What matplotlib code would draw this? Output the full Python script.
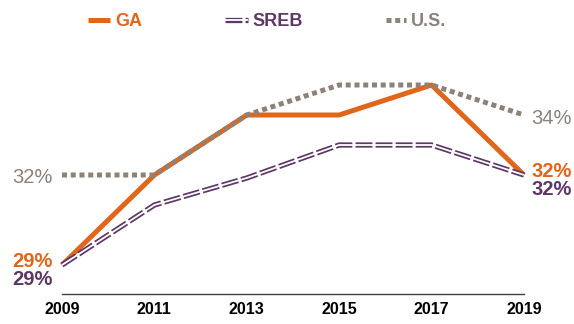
import matplotlib
matplotlib.use("Agg")
import matplotlib.pyplot as plt
from matplotlib.lines import Line2D

plt.rcParams['font.family'] = ['Liberation Sans', 'DejaVu Sans']

years = [2009, 2011, 2013, 2015, 2017, 2019]
tick_labels = ["2009", "2011", "2013", "2015", "2017", "2019"]
ga = [29, 32, 34, 34, 35, 32]
sreb = [29, 31, 31.9, 33, 33, 32]
us = [32, 32, 34, 35, 35, 34]
series_names = ["GA", "SREB", "U.S."]

GA_C = "#E0661B"
SREB_C = "#5E3766"
US_C = "#8C827A"

W, H = 574, 324
fig = plt.figure(figsize=(W / 100, H / 100), dpi=100)
ax = fig.add_axes([62 / W, 1 - 294 / H, (524 - 62) / W, (294 - 40) / H])
ax.set_xlim(2009, 2019)
ax.set_ylim(29 - (294 - 265) / 30, 29 + (265 - 40) / 30)

SREB_DASH = (0, (3.2, 0.6))
US_DOT = (0, (1, 0.75))

# GA: solid orange
ax.plot(years, ga, color=GA_C, lw=3.6, solid_capstyle="butt", zorder=2, clip_on=False)
# SREB: dashed double line (purple dash with white core)
ax.plot(years, sreb, color=SREB_C, lw=3.8, linestyle=SREB_DASH,
        dash_capstyle="butt", zorder=3, clip_on=False)
ax.plot(years, sreb, color="white", lw=1.3, solid_capstyle="butt", zorder=3.1, clip_on=False)
# U.S.: square dots
ax.plot(years, us, color=US_C, lw=3.6, linestyle=US_DOT,
        dash_capstyle="butt", zorder=4, clip_on=False)

for s in ["top", "right", "left"]:
    ax.spines[s].set_visible(False)
ax.spines["bottom"].set_color("#404040")
ax.spines["bottom"].set_linewidth(1.0)
ax.set_yticks([])
ax.set_xticks(years)
ax.set_xticklabels(tick_labels, fontsize=11.5, fontweight="bold", color="black")
ax.tick_params(axis="x", length=0, pad=6)

# endpoint value labels (baseline-anchored)
lab = dict(fontsize=14.5, va="baseline", clip_on=False)
xl, xr = 2008.8, 2019.16
ax.text(xl, us[0] - 0.26, f"{us[0]}%", ha="right", color=US_C, **lab)
ax.text(xl, ga[0] - 0.07, f"{ga[0]}%", ha="right", color=GA_C, fontweight="bold", **lab)
ax.text(xl, sreb[0] - 0.67, f"{sreb[0]}%", ha="right", color=SREB_C, fontweight="bold", **lab)
ax.text(xr, us[-1] - 0.3, f"{us[-1]}%", ha="left", color=US_C, **lab)
ax.text(xr, ga[-1] - 0.07, f"{ga[-1]}%", ha="left", color=GA_C, fontweight="bold", **lab)
ax.text(xr, sreb[-1] - 0.67, f"{sreb[-1]}%", ha="left", color=SREB_C, fontweight="bold", **lab)

# legend drawn in figure pixel coordinates
ly = 1 - 20 / H
def fx(px):
    return px / W

fig.add_artist(Line2D([fx(88), fx(110)], [ly, ly], color=GA_C, lw=3.6, solid_capstyle="butt"))
fig.add_artist(Line2D([fx(225), fx(248)], [ly, ly], color=SREB_C, lw=3.8,
                      linestyle=SREB_DASH, dash_capstyle="butt"))
fig.add_artist(Line2D([fx(225), fx(248)], [ly, ly], color="white", lw=1.3, solid_capstyle="butt"))
fig.add_artist(Line2D([fx(386), fx(406)], [ly, ly], color=US_C, lw=3.6,
                      linestyle=US_DOT, dash_capstyle="butt"))
for name, x0, c in zip(series_names, [115, 252, 411], [GA_C, SREB_C, US_C]):
    fig.text(fx(x0), ly, name, color=c, fontsize=13, fontweight="bold",
             ha="left", va="center_baseline")

fig.savefig("out.png", dpi=100)
